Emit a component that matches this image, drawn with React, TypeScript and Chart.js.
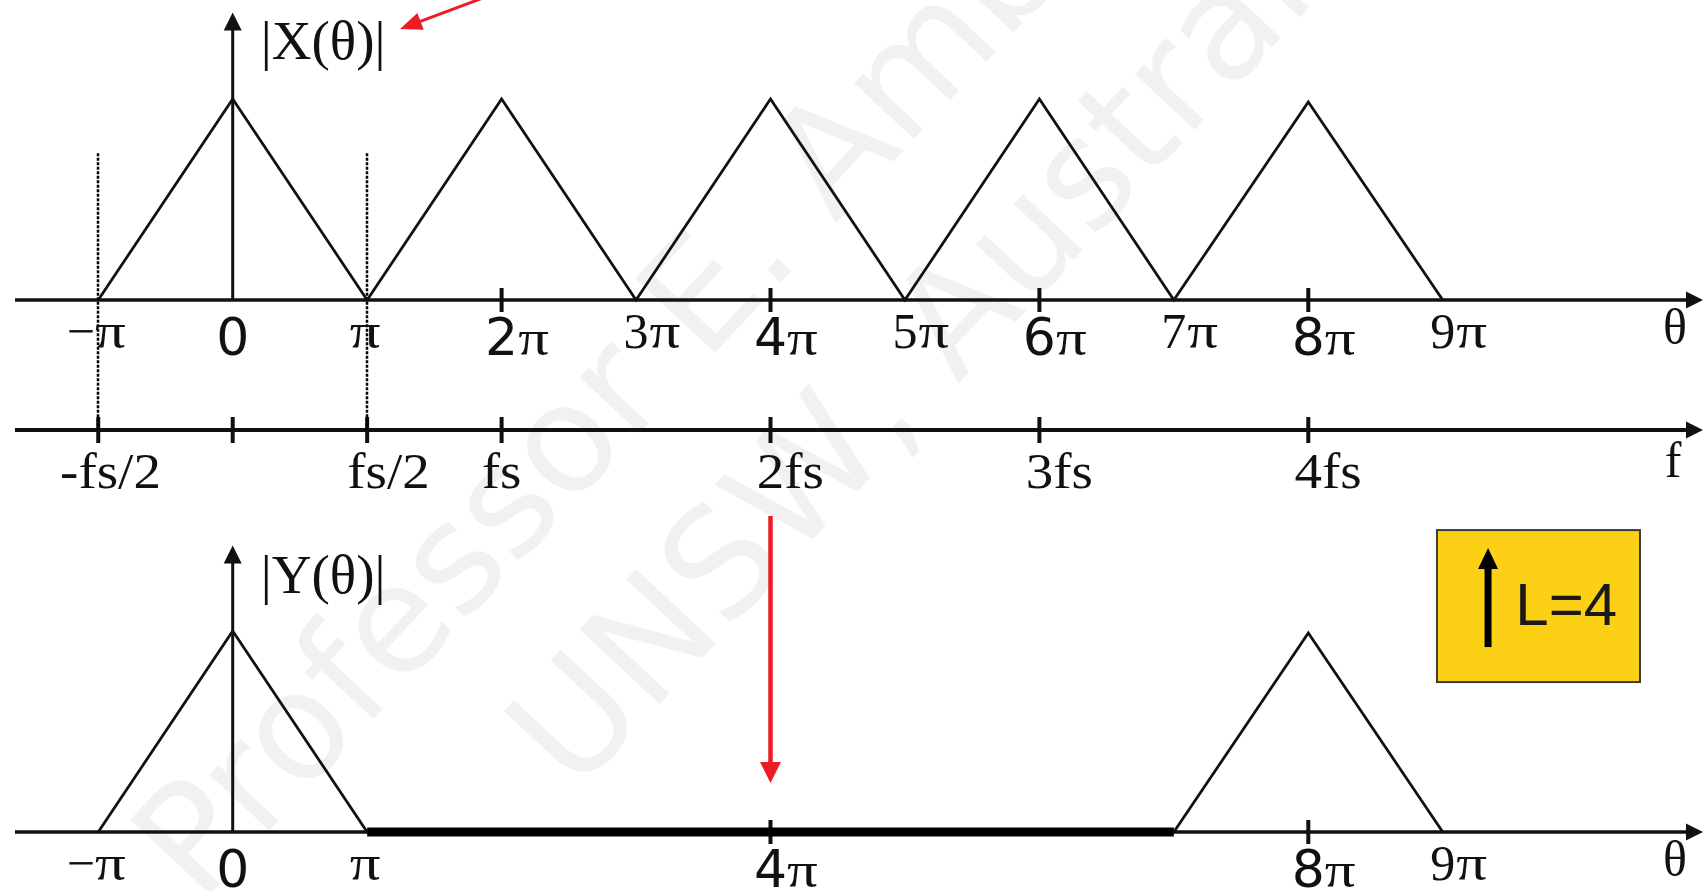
import React, { useEffect, useRef } from "react";
import { Chart, registerables } from "chart.js";

Chart.register(...registerables);

// Spectrum of x[n]: θ in multiples of π, magnitude normalised to the baseband peak
const xTheta = [-1, 0, 1, 2, 3, 4, 5, 6, 7, 8, 9];
const xMag = [0, 1, 0, 1, 0, 1, 0, 1, 0, 0.985, 0];

// Spectrum after the low-pass filter: baseband lobe and the lobe around 8π
const yBaseTheta = [-1, 0, 1];
const yBaseMag = [0, 1, 0];
const yImageTheta = [7, 8, 9];
const yImageMag = [0, 0.99, 0];
const yZeroBand = [1, 7]; // θ range (×π) where |Y(θ)| is zero

// θ axis of |X(θ)|
const topTickMarks = [2, 4, 6, 8];
const topLabelTheta = [-1, 0, 1, 2, 3, 4, 5, 6, 7, 8, 9];
const topLabels = ["−π", "0", "π", "2π", "3π", "4π", "5π", "6π", "7π", "8π", "9π"];

// analogue frequency axis (multiples of fs, fs ↔ 2π)
const fTickFs = [-0.5, 0, 0.5, 1, 2, 3, 4];
const fLabels = ["-fs/2", "", "fs/2", "fs", "2fs", "3fs", "4fs"];

// θ axis of |Y(θ)|
const botTickMarks = [4, 8];
const botLabelTheta = [-1, 0, 1, 4, 8, 9];
const botLabels = ["−π", "0", "π", "4π", "8π", "9π"];

const upsampleFactor = 4;

// ---- layout ----
const W = 1705;
const H = 891;
const ORIGIN_PX = 232.7; // θ = 0
const PI_PX = 134.45; // pixels per π
const TOP_BASE = 300; // |X(θ)| zero line
const BOT_BASE = 832; // |Y(θ)| zero line
const UNIT_PX = 201; // pixels per unit magnitude
const F_AXIS_GAP = 130; // f axis below the |X(θ)| axis
const AXIS_LEFT = 15;
const AXIS_RIGHT = W - 2;

const SERIF = '"Liberation Serif", "Times New Roman", serif';
const SANS = '"DejaVu Sans", Verdana, sans-serif';
const ARIAL = '"Liberation Sans", Arial, sans-serif';
const INK = "#111111";
const RED = "#ED1C24";

function pts(xs: number[], ys: number[]) {
  return xs.map((x, i) => ({ x, y: ys[i] }));
}

function arrow(
  ctx: CanvasRenderingContext2D,
  x1: number, y1: number, x2: number, y2: number,
  lw: number, color: string, headLen: number, headHalf: number
) {
  const dx = x2 - x1;
  const dy = y2 - y1;
  const len = Math.hypot(dx, dy);
  const ux = dx / len;
  const uy = dy / len;
  const bx = x2 - ux * headLen;
  const by = y2 - uy * headLen;
  ctx.save();
  ctx.strokeStyle = color;
  ctx.fillStyle = color;
  ctx.lineWidth = lw;
  ctx.lineCap = "butt";
  ctx.beginPath();
  ctx.moveTo(x1, y1);
  ctx.lineTo(bx + ux, by + uy);
  ctx.stroke();
  ctx.beginPath();
  ctx.moveTo(x2, y2);
  ctx.lineTo(bx - uy * headHalf, by + ux * headHalf);
  ctx.lineTo(bx + uy * headHalf, by - ux * headHalf);
  ctx.closePath();
  ctx.fill();
  ctx.restore();
}

function tick(ctx: CanvasRenderingContext2D, x: number, y: number, half: number, lw: number) {
  ctx.save();
  ctx.strokeStyle = INK;
  ctx.lineWidth = lw;
  ctx.beginPath();
  ctx.moveTo(x, y - half);
  ctx.lineTo(x, y + half);
  ctx.stroke();
  ctx.restore();
}

// text drawn with a horizontal stretch, left edge at x
function stretchedText(ctx: CanvasRenderingContext2D, s: string, x: number, y: number, sx: number) {
  ctx.save();
  ctx.translate(x, y);
  ctx.scale(sx, 1);
  ctx.textAlign = "left";
  ctx.fillText(s, 0, 0);
  ctx.restore();
  return ctx.measureText(s).width * sx;
}

const PI_STRETCH = 1.22;

// "2π" style label: the digit is centred on the tick, a wide π follows it.
// Even digits are set in a sans face, the rest in serif.
function thetaLabel(ctx: CanvasRenderingContext2D, label: string, x: number, axisY: number) {
  ctx.save();
  ctx.fillStyle = INK;
  ctx.textBaseline = "alphabetic";
  const m = label.match(/^(\d)(.*)$/);
  if (m) {
    const sans = "02468".includes(m[1]);
    const b = axisY + (sans ? 55 : 48);
    ctx.font = sans ? `52px ${SANS}` : `50px ${SERIF}`;
    const w = ctx.measureText(m[1]).width;
    const x0 = x - w / 2;
    ctx.fillText(m[1], x0, b);
    if (m[2]) {
      ctx.font = `50px ${SERIF}`;
      stretchedText(ctx, m[2], x0 + w + (sans ? 0 : 1), b, PI_STRETCH);
    }
  } else {
    const b = axisY + 48;
    ctx.font = `50px ${SERIF}`;
    let pre = "";
    let core = label;
    if (label.startsWith("−")) {
      pre = "−";
      core = label.slice(1);
    }
    const wPre = ctx.measureText(pre).width;
    const wCore = ctx.measureText(core).width * PI_STRETCH;
    let xs = x - (wPre + wCore) / 2 - 2;
    if (pre) {
      ctx.textAlign = "left";
      ctx.fillText(pre, xs, b);
      xs += wPre;
    }
    stretchedText(ctx, core, xs, b, PI_STRETCH);
  }
  ctx.restore();
}

const F_STRETCH = 1.1;

// "fs/2" style label: the leading digit, or "fs", is centred on the tick.
function fLabel(ctx: CanvasRenderingContext2D, label: string, x: number, baseline: number) {
  if (!label) return;
  ctx.save();
  ctx.fillStyle = INK;
  ctx.font = `50px ${SERIF}`;
  let prefix = "";
  let core = "fs";
  const m = label.match(/^(\d)/);
  if (m) core = m[1];
  else prefix = label.slice(0, label.indexOf("fs"));
  const x0 =
    x - (ctx.measureText(core).width * F_STRETCH) / 2 - ctx.measureText(prefix).width * F_STRETCH;
  stretchedText(ctx, label, x0, baseline, F_STRETCH);
  ctx.restore();
}

const diagramPlugin = {
  id: "diagram",
  beforeDraw(chart: any) {
    const ctx: CanvasRenderingContext2D = chart.ctx;
    ctx.save();
    ctx.fillStyle = "#ffffff";
    ctx.fillRect(0, 0, W, H);

    // faint watermark
    ctx.fillStyle = "rgba(0,0,0,0.055)";
    ctx.font = `150px ${SANS}`;
    ctx.textAlign = "left";
    ctx.translate(200, 905);
    ctx.rotate((-47 * Math.PI) / 180);
    ctx.fillText("Professor E. Ambikairajah", 0, 0);
    ctx.fillText("UNSW, Australia", 336, 199);
    ctx.restore();
  },
  beforeDatasetsDraw(chart: any) {
    const ctx: CanvasRenderingContext2D = chart.ctx;
    const xs = chart.scales.x;
    const yt = chart.scales.yTop;
    const yb = chart.scales.yBot;
    const X = (t: number) => xs.getPixelForValue(t);
    const topY = yt.getPixelForValue(0);
    const botY = yb.getPixelForValue(0);
    const fY = topY + F_AXIS_GAP;
    const x0 = X(0);

    // horizontal axes
    arrow(ctx, AXIS_LEFT, topY, AXIS_RIGHT, topY, 3.5, INK, 17, 8.5);
    arrow(ctx, AXIS_LEFT, fY, AXIS_RIGHT, fY, 4, INK, 17, 8.5);
    arrow(ctx, AXIS_LEFT, botY, AXIS_RIGHT, botY, 3.5, INK, 17, 8.5);

    // magnitude axes
    arrow(ctx, x0, topY, x0, yt.getPixelForValue(1.43), 3, INK, 18, 9);
    arrow(ctx, x0, botY, x0, yb.getPixelForValue(1.425), 3, INK, 18, 9);

    // tick marks
    topTickMarks.forEach((t) => tick(ctx, X(t), topY, 12, 4));
    botTickMarks.forEach((t) => tick(ctx, X(t), botY, 12, 4));
    fTickFs.forEach((f) => tick(ctx, X(2 * f), fY, 13, 4));

    // ±fs/2 guides linking the two frequency axes
    ctx.save();
    ctx.strokeStyle = "#000";
    ctx.lineWidth = 2.5;
    ctx.setLineDash([3, 1.5]);
    [-1, 1].forEach((t) => {
      const gx = Math.round(X(t));
      ctx.beginPath();
      ctx.moveTo(gx, yt.getPixelForValue(0.73));
      ctx.lineTo(gx, fY);
      ctx.stroke();
    });
    ctx.restore();
  },
  afterDatasetsDraw(chart: any) {
    const ctx: CanvasRenderingContext2D = chart.ctx;
    const xs = chart.scales.x;
    const yt = chart.scales.yTop;
    const yb = chart.scales.yBot;
    const X = (t: number) => xs.getPixelForValue(t);
    const topY = yt.getPixelForValue(0);
    const botY = yb.getPixelForValue(0);
    const fY = topY + F_AXIS_GAP;
    const x0 = X(0);

    topLabels.forEach((l, i) => thetaLabel(ctx, l, X(topLabelTheta[i]), topY));
    botLabels.forEach((l, i) => thetaLabel(ctx, l, X(botLabelTheta[i]), botY));
    fLabels.forEach((l, i) => fLabel(ctx, l, X(2 * fTickFs[i]), fY + 58));

    ctx.save();
    ctx.fillStyle = INK;
    ctx.textAlign = "center";
    ctx.font = `50px ${SERIF}`;
    ctx.fillText("θ", W - 30, topY + 44);
    ctx.fillText("θ", W - 30, botY + 44);
    ctx.fillText("f", W - 32, fY + 47);
    ctx.font = `54px ${SERIF}`;
    stretchedText(ctx, "|X(θ)|", x0 + 28, topY - 241, 1.02);
    stretchedText(ctx, "|Y(θ)|", x0 + 28, botY - 239, 1.02);
    ctx.restore();

    // red pointers
    arrow(ctx, X(2.03), yt.getPixelForValue(1.545), X(1.244), yt.getPixelForValue(1.348), 3, RED, 22, 9);
    arrow(ctx, X(4), yb.getPixelForValue(1.572), X(4), yb.getPixelForValue(0.244), 4.5, RED, 21, 10.5);

    // interpolation factor box
    const bx0 = X(8.957);
    const bx1 = X(10.467);
    const by0 = yb.getPixelForValue(1.502);
    const by1 = yb.getPixelForValue(0.746);
    ctx.save();
    ctx.fillStyle = "#FCD014";
    ctx.fillRect(bx0, by0, bx1 - bx0, by1 - by0);
    ctx.strokeStyle = "#3a3a3a";
    ctx.lineWidth = 2;
    ctx.strokeRect(bx0, by0, bx1 - bx0, by1 - by0);
    ctx.restore();
    arrow(ctx, X(9.337), yb.getPixelForValue(0.92), X(9.337), yb.getPixelForValue(1.413), 7, "#000", 21, 10);
    ctx.save();
    ctx.fillStyle = "#1a1a1a";
    ctx.font = `60px ${ARIAL}`;
    ctx.textAlign = "left";
    ctx.fillText(`L=${upsampleFactor}`, X(9.54), yb.getPixelForValue(1.03));
    ctx.restore();
  },
};

export default function App() {
  const ref = useRef<HTMLCanvasElement>(null);

  useEffect(() => {
    const canvas = ref.current;
    if (!canvas) return;
    const line = {
      showLine: true,
      borderColor: INK,
      borderWidth: 2.8,
      pointRadius: 0,
      tension: 0,
      fill: false,
      clip: false as any,
      borderJoinStyle: "miter" as const,
    };
    const chart = new Chart(canvas, {
      type: "scatter",
      data: {
        datasets: [
          { ...line, label: "|X(θ)|", yAxisID: "yTop", data: pts(xTheta, xMag) },
          { ...line, label: "|Y(θ)| baseband", yAxisID: "yBot", data: pts(yBaseTheta, yBaseMag) },
          { ...line, label: "|Y(θ)| image", yAxisID: "yBot", data: pts(yImageTheta, yImageMag) },
          {
            ...line,
            label: "|Y(θ)| = 0",
            yAxisID: "yBot",
            borderWidth: 9,
            borderColor: "#000",
            borderCapStyle: "butt",
            data: yZeroBand.map((t) => ({ x: t, y: 0 })),
          },
        ],
      },
      options: {
        animation: false,
        responsive: false,
        devicePixelRatio: 1,
        layout: { padding: 0 },
        events: [],
        plugins: { legend: { display: false }, tooltip: { enabled: false } },
        scales: {
          x: {
            type: "linear",
            display: false,
            min: -ORIGIN_PX / PI_PX,
            max: (W - ORIGIN_PX) / PI_PX,
          },
          yTop: {
            type: "linear",
            display: false,
            max: TOP_BASE / UNIT_PX,
            min: TOP_BASE / UNIT_PX - H / UNIT_PX,
          },
          yBot: {
            type: "linear",
            display: false,
            max: BOT_BASE / UNIT_PX,
            min: BOT_BASE / UNIT_PX - H / UNIT_PX,
          },
        },
      },
      plugins: [diagramPlugin],
    });
    return () => chart.destroy();
  }, []);

  return (
    <div style={{ position: "fixed", left: 0, top: 0, width: W, height: H, background: "#fff" }}>
      <canvas ref={ref} width={W} height={H} style={{ display: "block", width: W, height: H }} />
    </div>
  );
}
